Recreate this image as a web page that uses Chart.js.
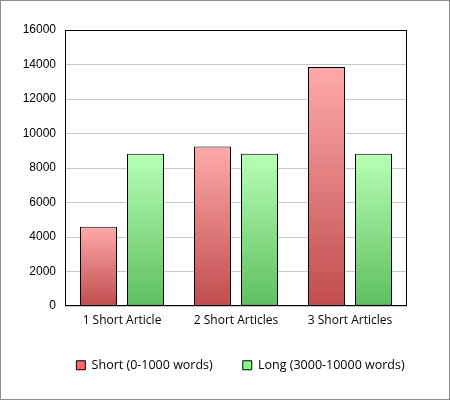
<!DOCTYPE html>
<html>
<head>
<meta charset="utf-8">
<script src="https://cdn.jsdelivr.net/npm/chart.js@4"></script>
<style>
  html, body { margin: 0; padding: 0; background: #fff; }
  #wrap { width: 450px; height: 400px; box-sizing: border-box; border: 1px solid #8c8c8c; }
  canvas { display: block; }
</style>
</head>
<body>
<div id="wrap"><canvas id="articleChart" width="448" height="398"></canvas></div>
<script>
// datos
const categories = ['1 Short Article', '2 Short Articles', '3 Short Articles'];
const shortWords = [4600, 9250, 13850];
const longWords = [8830, 8830, 8830];
const seriesNames = ['Short (0-1000 words)', 'Long (3000-10000 words)'];
const yTicks = [0, 2000, 4000, 6000, 8000, 10000, 12000, 14000, 16000];

// degradado por barra: claro arriba, oscuro abajo
function barGradient(topColor, bottomColor) {
    return function (context) {
        const chart = context.chart;
        const yScale = chart.scales.y;
        if (!yScale || context.parsed == null) return topColor;
        const top = yScale.getPixelForValue(context.parsed.y);
        const bottom = yScale.getPixelForValue(0);
        if (!isFinite(top) || top === bottom) return topColor;
        const g = chart.ctx.createLinearGradient(0, top, 0, bottom);
        g.addColorStop(0, topColor);
        g.addColorStop(1, bottomColor);
        return g;
    };
}

// marco negro alrededor del área del gráfico
const frameBox = {
    id: 'frameBox',
    afterDatasetsDraw(chart) {
        const a = chart.chartArea;
        const c = chart.ctx;
        c.save();
        c.strokeStyle = '#000';
        c.lineWidth = 1;
        c.strokeRect(Math.round(a.left) + 0.5, Math.round(a.top) + 0.5,
            Math.round(a.right - a.left) - 1, Math.round(a.bottom - a.top) - 1);
        c.restore();
    }
};

// la leyenda va centrada bajo el área del gráfico, no bajo el lienzo
const legendShift = {
    id: 'legendShift',
    afterLayout(chart) {
        const lg = chart.legend;
        if (!lg) return;
        lg.left += 29.5; lg.right += 29.5;
    }
};

const ctx = document.getElementById('articleChart');
new Chart(ctx, {
    type: 'bar',
    data: {
        labels: categories,
        datasets: [
            {
                label: seriesNames[0],
                data: shortWords,
                backgroundColor: barGradient('#ffaaaa', '#c04d4d'),
                borderColor: '#000',
                borderWidth: 1,
                borderSkipped: false,
                categoryPercentage: 0.8246,
                barPercentage: 0.7872
            },
            {
                label: seriesNames[1],
                data: longWords,
                backgroundColor: barGradient('#b5ffb5', '#5fbf5f'),
                borderColor: '#000',
                borderWidth: 1,
                borderSkipped: false,
                categoryPercentage: 0.8246,
                barPercentage: 0.7872
            }
        ]
    },
    options: {
        responsive: false,
        animation: false,
        devicePixelRatio: 1,
        layout: { padding: { top: 29, right: 42, left: 14, bottom: 17.5 } },
        plugins: {
            tooltip: { enabled: false },
            legend: {
                position: 'bottom',
                labels: {
                    color: '#000',
                    font: { family: 'Open Sans', size: 12.5 },
                    boxWidth: 9,
                    boxHeight: 9,
                    padding: 30,
                    generateLabels(chart) {
                        const fills = ['#ff6666', '#80ff80'];
                        return chart.data.datasets.map((ds, i) => ({
                            text: ds.label,
                            fillStyle: fills[i],
                            strokeStyle: '#000',
                            lineWidth: 1,
                            fontColor: '#000',
                            datasetIndex: i,
                            hidden: false
                        }));
                    }
                }
            }
        },
        scales: {
            x: {
                grid: { display: false, drawTicks: false },
                border: { display: false },
                afterFit(axis) { axis.height = 23; },
                ticks: {
                    color: '#000',
                    font: { family: 'Open Sans', size: 12 },
                    padding: 7
                }
            },
            y: {
                min: 0,
                max: 16000,
                afterBuildTicks(axis) {
                    axis.ticks = yTicks.map(v => ({ value: v }));
                },
                afterFit(axis) { axis.width = 50; },
                grid: { color: '#c8c8c8', drawTicks: false },
                border: { display: false },
                ticks: {
                    color: '#000',
                    font: { family: 'Liberation Sans', size: 12 },
                    padding: 9,
                    callback: v => String(v)
                }
            }
        }
    },
    plugins: [frameBox, legendShift]
});
</script>
</body>
</html>
